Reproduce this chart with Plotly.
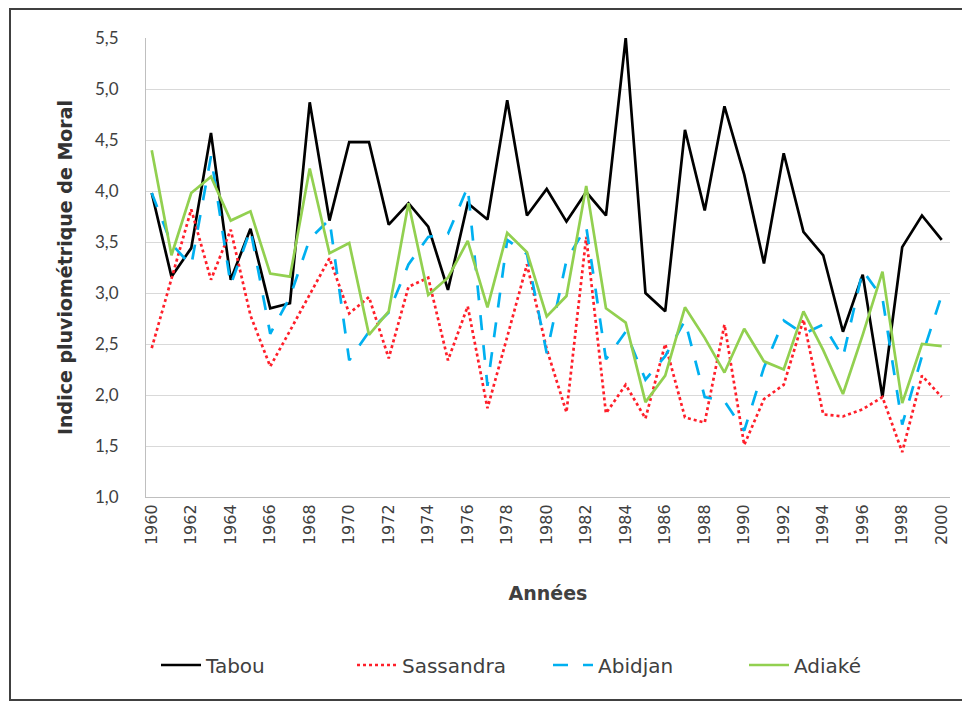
import plotly.graph_objects as go

years = list(range(1960, 2001))

tabou = [3.98, 3.16, 3.44, 4.57, 3.13, 3.63, 2.85, 2.90, 4.87, 3.71,
         4.48, 4.48, 3.67, 3.88, 3.65, 3.03, 3.88, 3.72, 4.89, 3.76,
         4.02, 3.70, 3.99, 3.76, 5.50, 3.00, 2.82, 4.60, 3.81, 4.83,
         4.16, 3.29, 4.37, 3.60, 3.37, 2.62, 3.18, 1.98, 3.45, 3.76, 3.52]

sassandra = [2.46, 3.13, 3.82, 3.13, 3.62, 2.78, 2.28, 2.63, 2.98, 3.34,
             2.80, 2.96, 2.36, 3.06, 3.15, 2.34, 2.87, 1.87, 2.57, 3.28,
             2.45, 1.83, 3.55, 1.82, 2.10, 1.77, 2.50, 1.78, 1.73, 2.69,
             1.51, 1.96, 2.10, 2.74, 1.81, 1.79, 1.86, 1.98, 1.44, 2.19, 1.98]

abidjan = [3.98, 3.48, 3.27, 4.34, 3.08, 3.62, 2.60, 2.96, 3.53, 3.72,
           2.34, 2.62, 2.81, 3.28, 3.55, 3.58, 4.04, 2.09, 3.52, 3.38,
           2.41, 3.32, 3.65, 2.35, 2.62, 2.15, 2.38, 2.73, 1.98, 1.94,
           1.65, 2.27, 2.73, 2.60, 2.69, 2.37, 3.22, 2.95, 1.71, 2.38, 2.98]

adiake = [4.40, 3.37, 3.98, 4.14, 3.71, 3.80, 3.19, 3.16, 4.22, 3.39,
          3.49, 2.59, 2.82, 3.88, 2.98, 3.15, 3.51, 2.86, 3.59, 3.40,
          2.77, 2.97, 4.05, 2.85, 2.71, 1.93, 2.19, 2.86, 2.56, 2.22,
          2.65, 2.33, 2.25, 2.82, 2.44, 2.01, 2.59, 3.21, 1.92, 2.50, 2.48]

series = [
    ("Tabou", tabou, "#000000", "solid"),
    ("Sassandra", sassandra, "#FF1F2A", "dot"),
    ("Abidjan", abidjan, "#00B0F0", "longdash"),
    ("Adiaké", adiake, "#92D050", "solid"),
]

FONT = "Lato, Open Sans, sans-serif"
WIDE = "DejaVu Sans, sans-serif"

fig = go.Figure()
for name, vals, col, dash in series:
    fig.add_trace(go.Scatter(x=years, y=vals, name=name, mode="lines",
                             line=dict(color=col, width=2.7, dash=dash)))

# page has an 8px body margin: figure is sized/offset to compensate
OFF = 8
W, H = 962, 694
L, R, T, B = 138, 20, 30, 205
pw = W - L - R
ph = H - T - B

def px_x(p):
    return (p - OFF - L) / pw

def px_y(p):
    return (H - B - (p - OFF)) / ph

fig.update_layout(
    width=W, height=H,
    margin=dict(l=L, r=R, t=T, b=B, autoexpand=False),
    paper_bgcolor="white", plot_bgcolor="white",
    separators=", ",
    font=dict(family=FONT, color="#404040"),
    showlegend=True,
    legend=dict(orientation="h", x=px_x(156), xanchor="left",
                y=px_y(665), yanchor="middle",
                font=dict(size=20, color="#404040", family=WIDE),
                entrywidth=141, entrywidthmode="pixels",
                itemwidth=40, tracegroupgap=0),
    xaxis=dict(range=[1959.71, 2000.42], tickmode="array",
               tickvals=list(range(1960, 2001, 2)),
               ticktext=[str(y) for y in range(1960, 2001, 2)],
               tickangle=-90, tickfont=dict(size=16, color="#404040", family=WIDE),
               showgrid=False, showline=True, linecolor="#bfbfbf", linewidth=1,
               ticks="", zeroline=False,
               title=dict(text="<b>Années</b>",
                          font=dict(size=19, color="#404040", family=WIDE), standoff=42)),
    yaxis=dict(range=[1.0, 5.5], dtick=0.5, tick0=1.0, tickformat=".1f",
               tickfont=dict(size=17, color="#404040"),
               showgrid=True, gridcolor="#d9d9d9", gridwidth=1,
               showline=True, linecolor="#bfbfbf", linewidth=1,
               ticks="", ticklabelstandoff=23, zeroline=False,
               title=dict(text="<b>Indice pluviométrique de Moral</b>",
                          font=dict(size=19, color="#333333", family=WIDE), standoff=17)),
    shapes=[dict(type="rect", xref="paper", yref="paper",
                 x0=px_x(10), x1=px_x(967), y0=px_y(700), y1=px_y(9),
                 line=dict(color="#404040", width=2), fillcolor="rgba(0,0,0,0)",
                 layer="below")],
)

fig.write_html("out.html")
